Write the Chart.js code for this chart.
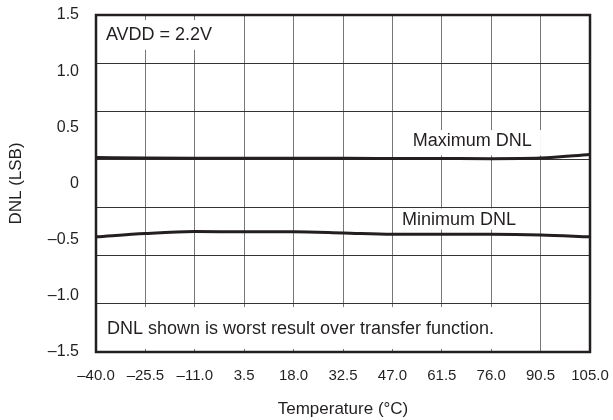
<!DOCTYPE html>
<html>
<head>
<meta charset="utf-8">
<script src="https://cdn.jsdelivr.net/npm/chart.js@4/dist/chart.umd.min.js"></script>
<style>
  html, body { margin: 0; padding: 0; background: #fff; }
  #wrap { width: 613px; height: 420px; }
</style>
</head>
<body>
<div id="wrap"><canvas id="myChart"></canvas></div>
<script>
// temperatures (deg C) where the curves are read
var temps = [-40, -25.5, -11, 3.5, 18, 32.5, 47, 61.5, 76, 90.5, 105];
var maxDnl = [0.232, 0.226, 0.224, 0.224, 0.224, 0.224, 0.223, 0.222, 0.221, 0.226, 0.258];
var minDnl = [-0.475, -0.445, -0.428, -0.43, -0.43, -0.44, -0.452, -0.452, -0.452, -0.458, -0.475];

var xTicks = [-40, -25.5, -11, 3.5, 18, 32.5, 47, 61.5, 76, 90.5, 105];
var yLabelTicks = [-1.5, -1.0, -0.5, 0, 0.5, 1.0, 1.5];
var yGridDivs = 7;

var font = "'Liberation Sans', Arial, Helvetica, sans-serif";

function fmt(v, d) {
    if (v === 0) return '0';
    var s = Math.abs(v).toFixed(d);
    return v < 0 ? '\u2013' + s : s;
}

function pts(ys) {
    var out = [];
    for (var i = 0; i < temps.length; i++) {
        out.push({ x: temps[i], y: ys[i] });
    }
    return out;
}

// grid ticks for y: 7 equal divisions, labels only every 0.5
var yGrid = [];
for (var k = 0; k <= yGridDivs; k++) {
    yGrid.push(-1.5 + 3 * k / yGridDivs);
}

function near(list, v) {
    return list.some(function (w) { return Math.abs(w - v) < 1e-6; });
}

// white boxes with text, drawn over the grid (data coordinates)
var notes = [
    { text: 'AVDD = 2.2V', x0: -38.8, x1: -3.6, y0: 1.455, y1: 1.19, tx: -37.1, ty: 1.322 },
    { text: 'Maximum DNL', x0: 51.3, x1: 90.6, y0: 0.476, y1: 0.25, tx: 53.0, ty: 0.378 },
    { text: 'Minimum DNL', x0: 48.3, x1: 85.9, y0: -0.222, y1: -0.41, tx: 49.8, ty: -0.325 },
    { text: 'DNL shown is worst result over transfer function.', x0: -38.8, x1: 83.0, y0: -1.1, y1: -1.473, tx: -36.8, ty: -1.295 }
];

var notesPlugin = {
    id: 'notes',
    beforeDatasetsDraw: function (chart) {
        var ctx = chart.ctx;
        var xs = chart.scales.x, ys = chart.scales.y;
        ctx.save();
        notes.forEach(function (n) {
            var l = xs.getPixelForValue(n.x0), r = xs.getPixelForValue(n.x1);
            var t = ys.getPixelForValue(n.y0), b = ys.getPixelForValue(n.y1);
            ctx.fillStyle = '#fff';
            ctx.fillRect(l, t, r - l, b - t);
            ctx.fillStyle = '#231f20';
            ctx.font = '18px ' + font;
            ctx.textAlign = 'left';
            ctx.textBaseline = 'middle';
            ctx.fillText(n.text, xs.getPixelForValue(n.tx), ys.getPixelForValue(n.ty));
        });
        ctx.restore();
    },
    afterDatasetsDraw: function (chart) {
        var ctx = chart.ctx, a = chart.chartArea;
        ctx.save();
        ctx.strokeStyle = '#231f20';
        ctx.lineWidth = 2.5;
        ctx.strokeRect(a.left, a.top, a.right - a.left, a.bottom - a.top);
        ctx.restore();
    }
};

var ctx = document.getElementById('myChart');
var myChart = new Chart(ctx, {
    type: 'line',
    data: {
        datasets: [{
            label: 'Maximum DNL',
            data: pts(maxDnl),
            borderColor: '#231f20',
            borderWidth: 3,
            pointRadius: 0,
            cubicInterpolationMode: 'monotone'
        }, {
            label: 'Minimum DNL',
            data: pts(minDnl),
            borderColor: '#231f20',
            borderWidth: 3,
            pointRadius: 0,
            cubicInterpolationMode: 'monotone'
        }]
    },
    options: {
        responsive: true,
        maintainAspectRatio: false,
        animation: false,
        layout: { padding: { top: 15, right: 23, left: 0, bottom: 0 } },
        plugins: {
            legend: { display: false },
            tooltip: { enabled: false }
        },
        scales: {
            x: {
                type: 'linear',
                min: -40,
                max: 105,
                afterBuildTicks: function (scale) {
                    scale.ticks = xTicks.map(function (v) { return { value: v }; });
                },
                afterFit: function (scale) {
                    scale.height = 68;
                    scale.paddingLeft = 0;
                    scale.paddingRight = 0;
                },
                border: { display: false },
                grid: { color: '#777', lineWidth: 1, drawTicks: false },
                ticks: {
                    color: '#231f20',
                    font: { family: font, size: 15 },
                    padding: 15,
                    maxRotation: 0,
                    autoSkip: false,
                    callback: function (v) { return fmt(v, 1); }
                },
                title: {
                    display: true,
                    text: 'Temperature (\u00b0C)',
                    color: '#231f20',
                    font: { family: font, size: 17 },
                    padding: { top: 0, bottom: 0 }
                }
            },
            y: {
                type: 'linear',
                min: -1.5,
                max: 1.5,
                afterBuildTicks: function (scale) {
                    var all = yGrid.slice();
                    yLabelTicks.forEach(function (v) {
                        if (!near(all, v)) all.push(v);
                    });
                    all.sort(function (a, b) { return a - b; });
                    scale.ticks = all.map(function (v) { return { value: v }; });
                },
                afterFit: function (scale) {
                    scale.width = 96;
                    scale.paddingTop = 0;
                    scale.paddingBottom = 0;
                },
                border: { display: false },
                grid: {
                    drawTicks: false,
                    lineWidth: 1,
                    color: function (c) {
                        var v = c.tick ? c.tick.value : 0;
                        return near(yGrid, v) ? '#333' : 'rgba(0,0,0,0)';
                    }
                },
                ticks: {
                    color: '#231f20',
                    font: { family: font, size: 16 },
                    padding: 17,
                    autoSkip: false,
                    callback: function (v) {
                        if (!near(yLabelTicks, v)) return '';
                        if (Math.abs(v) < 1e-9) return '0';
                        return fmt(v, 1);
                    }
                },
                title: {
                    display: true,
                    text: 'DNL (LSB)',
                    color: '#231f20',
                    font: { family: font, size: 17 },
                    padding: { top: 6, bottom: 0 }
                }
            }
        }
    },
    plugins: [notesPlugin]
});
</script>
</body>
</html>
